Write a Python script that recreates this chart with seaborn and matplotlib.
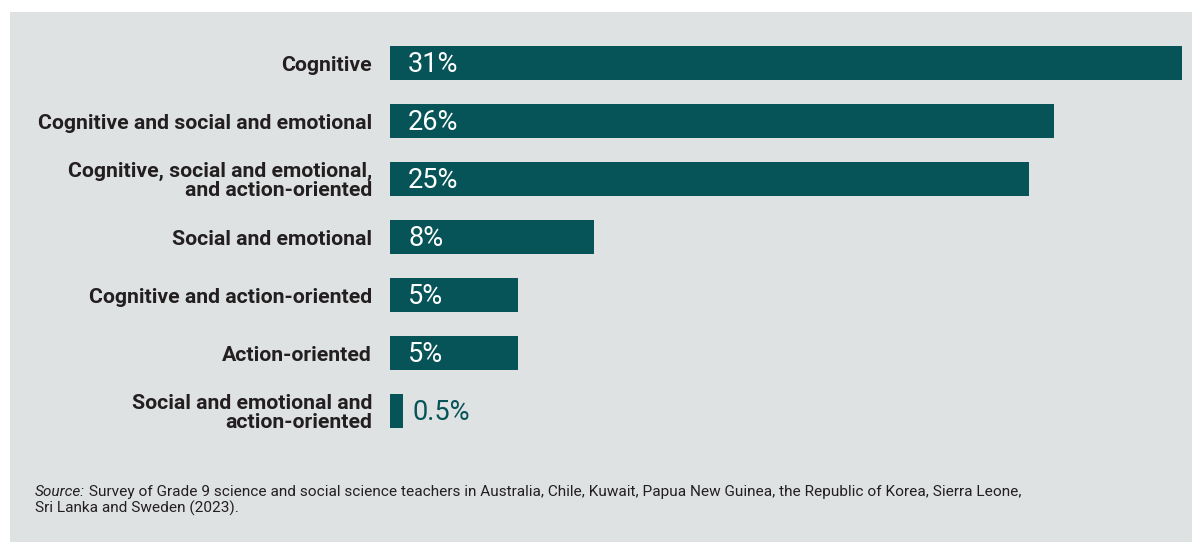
import matplotlib
matplotlib.use("Agg")
import matplotlib.pyplot as plt
import seaborn as sns
import pandas as pd
from matplotlib.patches import Rectangle

# data
categories = [
    "Cognitive",
    "Cognitive and social and emotional",
    "Cognitive, social and emotional,\nand action-oriented",
    "Social and emotional",
    "Cognitive and action-oriented",
    "Action-oriented",
    "Social and emotional and\naction-oriented",
]
shares = [31, 26, 25, 8, 5, 5, 0.5]
value_labels = ["31%", "26%", "25%", "8%", "5%", "5%", "0.5%"]

source_label = "Source:"
source_line1 = (" Survey of Grade 9 science and social science teachers in Australia, Chile, "
                "Kuwait, Papua New Guinea, the Republic of Korea, Sierra Leone,")
source_line2 = "Sri Lanka and Sweden (2023)."

bar_color = "#065457"
panel_color = "#dfe2e3"
text_color = "#231f20"

sns.set_theme(style="white")
plt.rcParams["font.family"] = ["Roboto", "DejaVu Sans"]

W, H = 1192, 542
fig = plt.figure(figsize=(W / 100, H / 100), dpi=100)
fig.patch.set_facecolor("white")
fig.patches.append(Rectangle((10 / W, 0), 1 - 10 / W, 1 - 12 / H,
                             transform=fig.transFigure, facecolor=panel_color,
                             edgecolor="none", zorder=-5))

ax = fig.add_axes([390 / W, 1 - 440 / H, (1182 - 390) / W, (440 - 34) / H])
ax.set_facecolor("none")

df = pd.DataFrame({"category": categories, "share": shares})
sns.barplot(data=df, x="share", y="category", color=bar_color, saturation=1,
            width=0.6, linewidth=0, ax=ax)

ax.set_xlim(0, 31)
ax.set_ylim(6.5, -0.5)
sns.despine(ax=ax, left=True, bottom=True)
ax.set_xticks([])
ax.set_xlabel("")
ax.set_ylabel("")
ax.tick_params(axis="y", length=0, pad=13)
for lab in ax.get_yticklabels():
    lab.set_fontweight("bold")
    lab.set_fontsize(15.3)
    lab.set_color(text_color)
    lab.set_linespacing(1.0)

# value labels: inside the bar in white, outside for the tiny bar
for i, (v, txt) in enumerate(zip(shares, value_labels)):
    if v > 2:
        ax.annotate(txt, xy=(0, i), xytext=(13, -0.8), textcoords="offset points",
                    color="white", fontsize=19.5, va="center", ha="left")
    else:
        ax.annotate(txt, xy=(v, i), xytext=(7, -0.8), textcoords="offset points",
                    color=bar_color, fontsize=19.5, va="center", ha="left")

# source note (italic lead-in, then plain text on the same baseline)
src_size = 11.1
t1 = fig.text(35 / W, 1 - 496 / H, source_label, fontsize=src_size, style="italic",
              color=text_color, va="baseline", ha="left")
fig.canvas.draw()
x_after = t1.get_window_extent().x1
fig.text(x_after / W, 1 - 496 / H, source_line1, fontsize=src_size,
         color=text_color, va="baseline", ha="left")
fig.text(35 / W, 1 - 513 / H, source_line2, fontsize=src_size, color=text_color,
         va="baseline", ha="left")

fig.savefig("out.png", dpi=100, facecolor=fig.get_facecolor())
